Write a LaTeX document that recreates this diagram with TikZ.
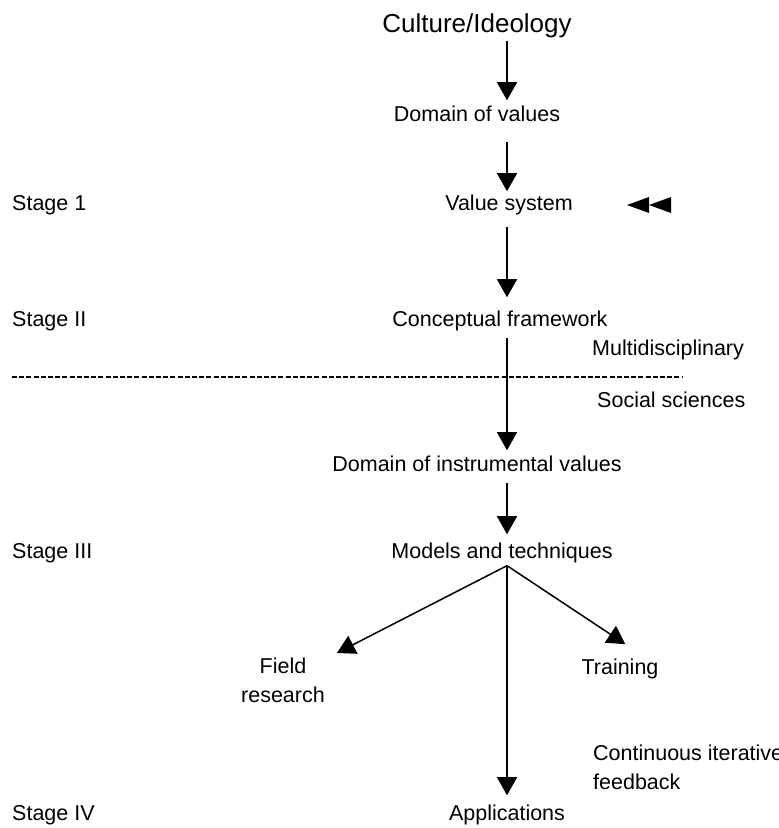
\documentclass[tikz,border=0pt]{standalone}
\usepackage{fontspec}
\setmainfont{Liberation Sans}
\usetikzlibrary{arrows.meta,calc}

\begin{document}
\begin{tikzpicture}[x=1pt,y=-1pt,
  lbl/.style={font=\fontsize{21.5}{29}\selectfont,inner sep=3pt},
  flow/.style={line width=1.5pt,-{Triangle[width=20pt,length=18pt]}}]
\useasboundingbox (0,0) rectangle (779,828);
\coordinate (axis) at (507,0);

% Main chain
\node[lbl,font=\fontsize{26}{30}\selectfont,anchor=base] (culture) at (477,32) {Culture/Ideology};
\node[lbl,anchor=base] (domain) at (477,121) {Domain of values};
\node[lbl,anchor=base] (valsys) at (509,210) {Value system};
\node[lbl,anchor=base] (concept) at (500,326) {Conceptual framework};
\node[lbl,anchor=base] (instr) at (477,471) {Domain of instrumental values};
\node[lbl,anchor=base] (models) at (502,558) {Models and techniques};
\node[lbl,anchor=north,align=center] (field) at (283,655) {Field\\research};
\node[lbl,anchor=base] (training) at (620,674) {Training};
\node[lbl,anchor=base] (apps) at (507,820) {Applications};

% Stages
\foreach \s/\y in {1/210, II/326, III/558, IV/820}
  \node[lbl,anchor=base west] (stage\s) at (9,\y) {Stage \s};

% Side notes
\node[lbl,anchor=base west] (multi) at (589,355) {Multidisciplinary};
\node[lbl,anchor=base west] (social) at (594,407) {Social sciences};
\node[lbl,anchor=north west,align=left] (feedback) at (590,742) {Continuous iterative\\feedback};

% Divider
\coordinate (dl) at (12,377);
\coordinate (dr) at (683,377);
\draw[line width=1.5pt,dash pattern=on 5pt off 2.2pt] (dl) -- (dr);

% Double arrowhead
\coordinate (dbl) at (627,205);
\foreach \dx in {0,22}
  \fill ($(dbl)+(\dx,0)$) -- ++(22,-8) -- ++(0,16) -- cycle;

% Arrows
\draw[flow,shorten >=2pt] (culture.south -| axis) -- (domain.north -| axis);
\draw[flow,shorten <=18pt] (domain.south -| axis) -- (valsys.north -| axis);
\draw[flow,shorten <=9pt,shorten >=10pt] (valsys.south -| axis) -- (concept.north -| axis);
\draw[flow,shorten <=4pt,shorten >=2pt] (concept.south -| axis) -- (instr.north -| axis);
\draw[flow,shorten <=9pt,shorten >=5pt] (instr.south -| axis) -- (models.north -| axis);
\coordinate (apex) at (models.south -| axis);
\draw[flow,shorten >=10pt] (apex) -- (field);
\draw[flow,shorten >=20pt] (apex) -- ([xshift=22pt]training.north);
\draw[flow,shorten >=6pt] (apex) -- (apps.north);
\end{tikzpicture}
\end{document}
